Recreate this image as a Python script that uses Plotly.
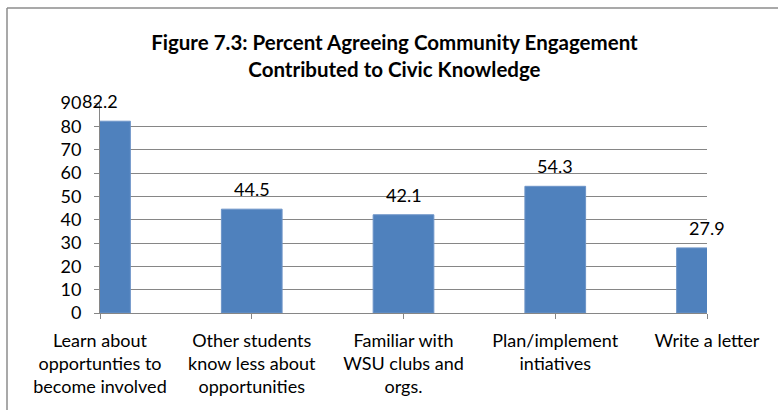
import plotly.graph_objects as go

# Survey results: share of respondents agreeing with each statement
categories = [
    "Learn about<br>opportunties to<br>become involved",
    "Other students<br>know less about<br>opportunities",
    "Familiar with<br>WSU clubs and<br>orgs.",
    "Plan/implement<br>intiatives",
    "Write a letter",
]
percent_agreeing = [82.2, 44.5, 42.1, 54.3, 27.9]
y_ticks = [0, 10, 20, 30, 40, 50, 60, 70, 80, 90]

positions = list(range(len(categories)))
bar_color = "#4F81BD"
grid_color = "#868686"
font_family = "Lato, Calibri, sans-serif"

fig = go.Figure()

# Bars centred on each category tick; the edge bars are clipped by the plot area
fig.add_trace(go.Bar(
    x=positions,
    y=percent_agreeing,
    width=0.4,
    marker=dict(color=bar_color, line=dict(color="#6d94c8", width=1)),
    hoverinfo="skip",
))

# Value labels above each bar
for xpos, val in zip(positions, percent_agreeing):
    fig.add_annotation(
        x=xpos, y=val, text=f"{val:.1f}", showarrow=False,
        yanchor="bottom", yshift=7,
        font=dict(family=font_family, size=18, color="#000000"),
    )

fig.update_layout(
    width=778, height=410,
    margin=dict(l=100, r=71, t=103, b=97),
    paper_bgcolor="white", plot_bgcolor="white",
    showlegend=False,
    title=dict(
        text="<b>Figure 7.3: Percent Agreeing Community Engagement<br>Contributed to Civic Knowledge</b>",
        x=0.507, xanchor="center", y=1 - 50 / 410, yanchor="middle",
        font=dict(family=font_family, size=20.5, color="#000000"),
    ),
    xaxis=dict(
        range=[0, 4],
        tickmode="array", tickvals=positions, ticktext=categories,
        showgrid=False, zeroline=False,
        showline=True, linecolor=grid_color, linewidth=1,
        ticks="outside", ticklen=5, tickcolor=grid_color,
        ticklabelstandoff=6,
        tickfont=dict(family=font_family, size=18, color="#000000"),
        fixedrange=True,
    ),
    yaxis=dict(
        range=[0, 90],
        tickmode="array", tickvals=y_ticks,
        showgrid=True, gridcolor=grid_color, gridwidth=1,
        zeroline=False,
        showline=True, linecolor=grid_color, linewidth=1,
        ticks="outside", ticklen=5, tickcolor=grid_color,
        ticklabelstandoff=9,
        tickfont=dict(family=font_family, size=18, color="#000000"),
        fixedrange=True,
    ),
    shapes=[
        dict(type="line", xref="paper", yref="paper",
             x0=-93 / 607, x1=678 / 607, y0=(410 - 97 - 8) / 210, y1=(410 - 97 - 8) / 210,
             line=dict(color="#8c8c8c", width=1.5)),
        dict(type="line", xref="paper", yref="paper",
             x0=-93 / 607, x1=-93 / 607, y0=(410 - 97 - 8) / 210, y1=-97 / 210,
             line=dict(color="#8c8c8c", width=1.5)),
    ],
)

fig.write_html("out.html", config={"displayModeBar": False})
